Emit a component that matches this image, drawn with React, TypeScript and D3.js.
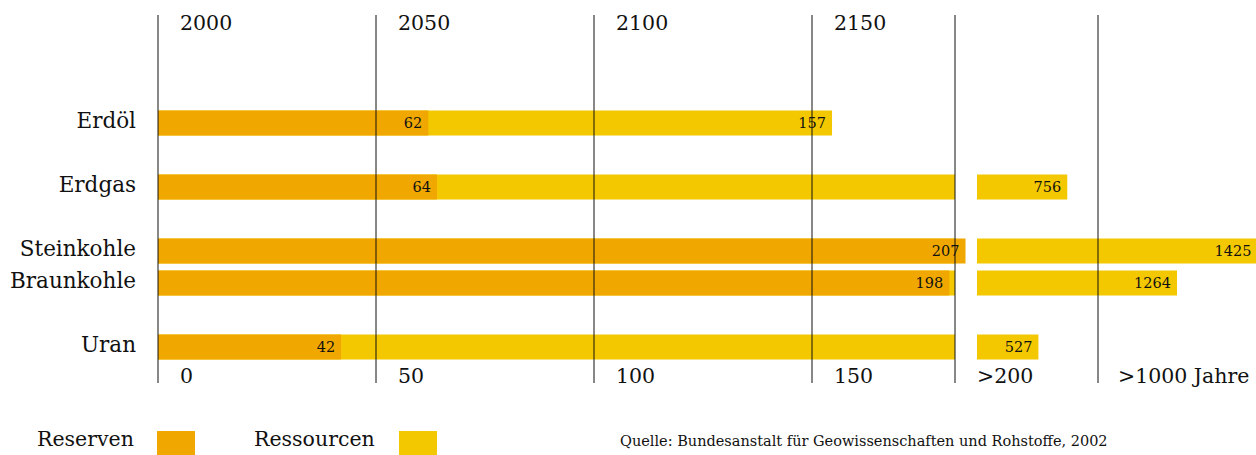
import React from 'react';
import * as d3 from 'd3';

// Reichweite fossiler/nuklearer Energierohstoffe in Jahren
const categories = ['Erdöl', 'Erdgas', 'Steinkohle', 'Braunkohle', 'Uran'];
const reserves = [62, 64, 207, 198, 42];
const resources = [157, 756, 1425, 1264, 527];

// row slots, blanks make the gaps between groups
const rowSlots = ['Erdöl', '_1', 'Erdgas', '_2', 'Steinkohle', 'Braunkohle', '_3', 'Uran'];

const yearTicks = [0, 50, 100, 150];
const yearLabels = ['2000', '2050', '2100', '2150'];
const bottomLabels = ['0', '50', '100', '150'];
const breakValue = 200;
const farValue = 1000;

const legendItems = ['Reserven', 'Ressourcen'];
const source = 'Quelle: Bundesanstalt für Geowissenschaften und Rohstoffe, 2002';

const colors = { reserve: '#F0A800', resource: '#F4C800', line: '#111' };
const font = '"DejaVu Serif", serif';

export default function App() {
  const width = 1256;
  const height = 455;
  const x0 = 158;

  // first axis segment: 0..200 years, compressed a bit past 150
  const x1 = d3.scaleLinear().domain([0, 150, 200, 210]).range([x0, 812, 955, 970]);
  // second segment after the axis break
  const x2 = d3.scaleLinear().domain([200, 500, 1000, 1250, 1500]).range([977, 1035, 1098, 1170, 1295]);

  const y = d3.scalePoint<string>().domain(rowSlots).range([123, 347]);
  const barH = 25;

  const rows = categories.map((c, i) => ({ name: c, res: reserves[i], rsc: resources[i] }));

  const lineTop = 15;
  const lineBottom = 383;

  return (
    <svg width={width} height={height} style={{ position: 'absolute', left: 0, top: 0 }}
         fontFamily={font}>
      <rect width={width} height={height} fill="#fff" />

      {rows.map(d => {
        const cy = y(d.name)!;
        const top = cy - barH / 2;
        const rscEnd = x1(Math.min(d.rsc, breakValue));
        return (
          <g key={d.name}>
            <text x={136} y={cy + 5} textAnchor="end" fontSize={21.5} fill="#111">{d.name}</text>
            <rect x={x0} y={top} width={rscEnd - x0} height={barH} fill={colors.resource} />
            {d.rsc > breakValue &&
              <rect x={x2(breakValue)} y={top} width={x2(d.rsc) - x2(breakValue)} height={barH}
                    fill={colors.resource} />}
            <rect x={x0} y={top} width={x1(d.res) - x0} height={barH} fill={colors.reserve} />
            <text x={x1(d.res) - 6} y={cy + 5} textAnchor="end" fontSize={14.5} fill="#111">{d.res}</text>
            <text x={(d.rsc > breakValue ? x2(d.rsc) : x1(d.rsc)) - 6} y={cy + 5}
                  textAnchor="end" fontSize={14.5} fill="#111">{d.rsc}</text>
          </g>
        );
      })}

      {yearTicks.map((t, i) => (
        <g key={t}>
          <line x1={x1(t)} x2={x1(t)} y1={lineTop} y2={lineBottom} stroke={colors.line} strokeWidth={1} />
          <text x={x1(t) + 22} y={30} fontSize={20.5} fill="#111">{yearLabels[i]}</text>
          <text x={x1(t) + 22} y={383} fontSize={20.5} fill="#111">{bottomLabels[i]}</text>
        </g>
      ))}
      <line x1={x1(breakValue)} x2={x1(breakValue)} y1={lineTop} y2={lineBottom} stroke={colors.line} />
      <text x={x2(breakValue)} y={383} fontSize={20.5} fill="#111">{'>' + breakValue}</text>
      <line x1={x2(farValue)} x2={x2(farValue)} y1={lineTop} y2={lineBottom} stroke={colors.line} />
      <text x={x2(farValue) + 20} y={383} fontSize={20.5} fill="#111">{'>' + farValue + ' Jahre'}</text>

      {legendItems.map((l, i) => (
        <g key={l} transform={`translate(${[37, 254][i]},0)`}>
          <text x={0} y={446} fontSize={20.5} fill="#111">{l}</text>
          <rect x={[120, 145][i]} y={431} width={38} height={24}
                fill={i === 0 ? colors.reserve : colors.resource} />
        </g>
      ))}
      <text x={620} y={446} fontSize={14.5} fill="#111">{source}</text>
    </svg>
  );
}
